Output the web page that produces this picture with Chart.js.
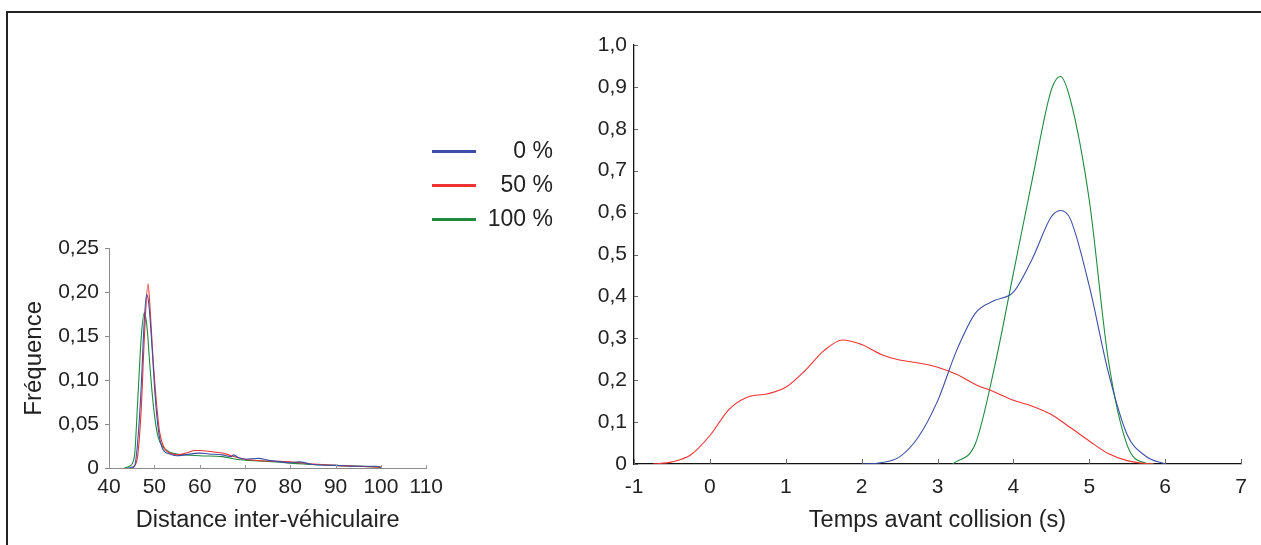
<!DOCTYPE html>
<html>
<head>
<meta charset="utf-8">
<script src="https://cdn.jsdelivr.net/npm/chart.js@4.4.0/dist/chart.umd.min.js"></script>
<style>
  body { margin: 0; background: #fff; width: 1261px; height: 545px; overflow: hidden; position: relative; font-family: 'Liberation Sans', Arial, sans-serif; }
  .frame { position: absolute; left: 6px; top: 11px; width: 1260px; height: 540px; border-left: 2px solid #222; border-top: 2px solid #222; }
  #leftBox { position: absolute; left: 0; top: 230px; width: 450px; height: 315px; }
  #rightBox { position: absolute; left: 580px; top: 20px; width: 681px; height: 525px; }
  #legend { position: absolute; left: 432px; top: 137px; width: 121px; }
  #legend div { height: 34px; position: relative; font-size: 23px; color: #222; }
  #legend span.line { position: absolute; left: 0; top: 13px; width: 44px; height: 3px; }
  #legend span.txt { position: absolute; right: 0; top: 0; }
</style>
</head>
<body>
<div class="frame"></div>
<div id="leftBox"><canvas id="leftChart"></canvas></div>
<div id="legend"></div>
<div id="rightBox"><canvas id="rightChart"></canvas></div>
<script>
const seriesNames = ['0 %', '50 %', '100 %'];
const seriesColors = ['#3b4fa6', '#ee3333', '#1f8a3e'];

// Distance inter-véhiculaire (left panel)
const distX0 = [44.2,45.6,46.3,47.1,47.7,48.3,48.8,49.5,50.2,50.9,51.9,53.4,55,60,62,65,67,67.5,68.5,70,73,75,78,80,82,84,85,90,95,99,100];
const dist0  = [0,0.002,0.028,0.092,0.16,0.198,0.186,0.137,0.081,0.043,0.021,0.016,0.014,0.017,0.016,0.015,0.013,0.015,0.012,0.01,0.011,0.009,0.007,0.006,0.007,0.005,0.004,0.003,0.002,0.002,0];
const distX50 = [45.3,46.3,47.1,47.8,48.6,49.1,49.7,50.5,51.2,52.3,53.4,55,57,59,60,62,65,67,70,75,80,85,90,95,100];
const dist50  = [0,0.013,0.066,0.148,0.21,0.179,0.126,0.073,0.04,0.022,0.017,0.015,0.017,0.02,0.02,0.019,0.017,0.014,0.01,0.008,0.007,0.0045,0.003,0.002,0.001];
const distX100 = [43.4,44.5,45.6,46.3,47.1,47.8,48.4,49.1,49.9,50.8,51.9,53.4,55,60,65,68,70,75,80,85,90,100];
const dist100  = [0,0.002,0.013,0.073,0.148,0.177,0.16,0.111,0.066,0.036,0.024,0.018,0.016,0.014,0.013,0.01,0.009,0.0075,0.0056,0.004,0.003,0.001];

// Temps avant collision (right panel)
const ttcX0 = [2.0,2.25,2.5,2.75,3.0,3.25,3.5,3.75,4.0,4.25,4.5,4.62,4.75,5.0,5.25,5.5,5.75,6.0];
const ttc0  = [0,0.003,0.017,0.065,0.15,0.27,0.36,0.39,0.41,0.49,0.59,0.605,0.585,0.425,0.22,0.07,0.018,0];
const ttcX50 = [-0.75,-0.5,-0.25,0,0.25,0.5,0.75,1,1.25,1.5,1.75,2,2.25,2.5,2.75,3,3.25,3.5,3.75,4,4.25,4.5,4.75,5,5.25,5.5,5.75,5.85];
const ttc50  = [0,0.005,0.022,0.068,0.13,0.16,0.167,0.183,0.222,0.27,0.296,0.285,0.262,0.248,0.241,0.231,0.214,0.19,0.172,0.152,0.138,0.118,0.087,0.055,0.025,0.008,0.001,0];
const ttcX100 = [3.2,3.5,3.75,4.0,4.25,4.5,4.62,4.75,5.0,5.25,5.5,5.75,5.85];
const ttc100  = [0,0.049,0.23,0.455,0.68,0.893,0.925,0.87,0.63,0.25,0.045,0.002,0];

const leftTicksX = [40,50,60,70,80,90,100,110];
const leftTicksY = [0,0.05,0.10,0.15,0.20,0.25];
const rightTicksX = [-1,0,1,2,3,4,5,6,7];
const rightTicksY = [0,0.1,0.2,0.3,0.4,0.5,0.6,0.7,0.8,0.9,1.0];

const regular = "'Liberation Sans', Arial, sans-serif";

function pts(xs, ys) { return xs.map((x, i) => ({x: x, y: ys[i]})); }
function ds(i, xs, ys) {
  return { label: seriesNames[i], data: pts(xs, ys), borderColor: seriesColors[i], borderWidth: 1.1,
           pointRadius: 0, fill: false, cubicInterpolationMode: 'monotone' };
}
function comma(v, digits) { return v === 0 ? '0' : v.toFixed(digits).replace('.', ','); }

// small tick marks drawn inside the plot area
const insideTicks = {
  id: 'insideTicks',
  afterDraw(chart, args, opts) {
    const ctx = chart.ctx;
    ctx.save();
    ctx.strokeStyle = opts.color;
    ctx.lineWidth = 1;
    const sx = chart.scales.x, sy = chart.scales.y;
    if (opts.x) {
      sx.ticks.forEach(t => {
        const px = Math.round(sx.getPixelForValue(t.value)) + 0.5;
        ctx.beginPath(); ctx.moveTo(px, sy.bottom); ctx.lineTo(px, sy.bottom - opts.x); ctx.stroke();
      });
    }
    if (opts.y) {
      sy.ticks.forEach(t => {
        const py = Math.round(sy.getPixelForValue(t.value)) + 0.5;
        ctx.beginPath(); ctx.moveTo(sx.left, py); ctx.lineTo(sx.left + opts.y, py); ctx.stroke();
      });
    }
    ctx.restore();
  }
};

new Chart(document.getElementById('leftChart'), {
  type: 'line',
  data: { datasets: [ds(0, distX0, dist0), ds(1, distX50, dist50), ds(2, distX100, dist100)] },
  plugins: [insideTicks],
  options: {
    responsive: true, maintainAspectRatio: false, animation: false,
    layout: { padding: { left: 20, right: 23, top: 17, bottom: 0 } },
    plugins: { legend: { display: false }, tooltip: { enabled: false },
      insideTicks: { x: 3, y: 0, color: '#999' } },
    scales: {
      x: {
        type: 'linear', min: 40, max: 110,
        afterBuildTicks: s => { s.ticks = leftTicksX.map(v => ({value: v})); },
        afterFit: s => { s.height = 77; },
        grid: { display: false, drawTicks: false },
        border: { display: true, color: '#8a8a8a', width: 1 },
        ticks: { color: '#222', font: { family: regular, size: 21 }, padding: 7, maxRotation: 0, callback: v => String(v) },
        title: { display: true, text: 'Distance inter-véhiculaire', color: '#222', font: { family: regular, size: 23.5 }, padding: { top: 4, bottom: 10 } }
      },
      y: {
        type: 'linear', min: 0, max: 0.25,
        afterBuildTicks: s => { s.ticks = leftTicksY.map(v => ({value: v})); },
        afterFit: s => { s.width = 89; },
        grid: { drawOnChartArea: false, drawTicks: true, tickLength: 4, color: '#8a8a8a' },
        border: { display: true, color: '#8a8a8a', width: 1 },
        ticks: { color: '#222', font: { family: regular, size: 21 }, padding: 6, callback: v => comma(v, 2) },
        title: { display: true, text: 'Fréquence', color: '#222', font: { family: regular, size: 24 }, padding: 0 }
      }
    }
  }
});

new Chart(document.getElementById('rightChart'), {
  type: 'line',
  data: { datasets: [ds(0, ttcX0, ttc0), ds(1, ttcX50, ttc50), ds(2, ttcX100, ttc100)] },
  plugins: [insideTicks],
  options: {
    responsive: true, maintainAspectRatio: false, animation: false,
    layout: { padding: { left: 0, right: 20, top: 25, bottom: 0 } },
    plugins: { legend: { display: false }, tooltip: { enabled: false },
      insideTicks: { x: 5, y: 4, color: '#666' } },
    scales: {
      x: {
        type: 'linear', min: -1, max: 7,
        afterBuildTicks: s => { s.ticks = rightTicksX.map(v => ({value: v})); },
        afterFit: s => { s.height = 81; },
        grid: { display: false, drawTicks: false },
        border: { display: true, color: '#111', width: 1.3 },
        ticks: { color: '#222', font: { family: regular, size: 21 }, padding: 11, maxRotation: 0, callback: v => String(v) },
        title: { display: true, text: 'Temps avant collision (s)', color: '#222', font: { family: regular, size: 23.5 }, padding: { top: 4, bottom: 10 } }
      },
      y: {
        type: 'linear', min: 0, max: 1,
        afterBuildTicks: s => { s.ticks = rightTicksY.map(v => ({value: v})); },
        afterFit: s => { s.width = 54; },
        grid: { display: false, drawTicks: false },
        border: { display: true, color: '#111', width: 1.3 },
        ticks: { color: '#222', font: { family: regular, size: 21 }, padding: 7, callback: v => comma(v, 1) }
      }
    }
  }
});

// legend between the two panels
const legend = document.getElementById('legend');
seriesNames.forEach((n, i) => {
  const row = document.createElement('div');
  row.innerHTML = '<span class="line" style="background:' + seriesColors[i] + '"></span><span class="txt">' + n + '</span>';
  legend.appendChild(row);
});
</script>
</body>
</html>
